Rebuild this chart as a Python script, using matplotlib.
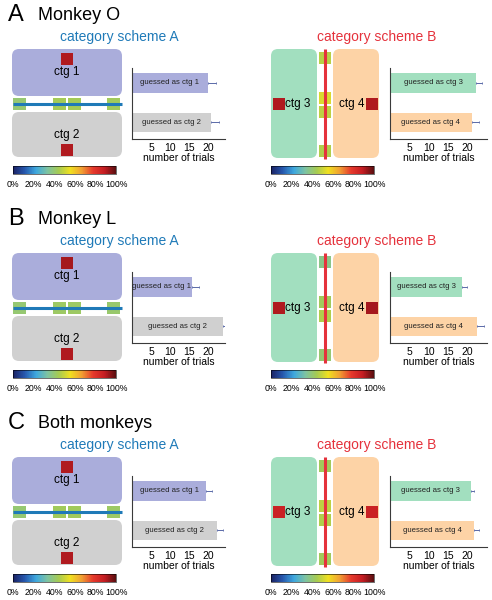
import matplotlib
matplotlib.use("Agg")
import matplotlib.pyplot as plt
import numpy as np
from matplotlib.colors import LinearSegmentedColormap
from matplotlib.patches import FancyBboxPatch, Rectangle
from matplotlib.cm import ScalarMappable

plt.rcParams["font.family"] = ["Liberation Sans", "DejaVu Sans"]

W, H = 492, 600

# ---- data ----
PANEL_LETTERS = ["A", "B", "C"]
PANEL_TITLES = ["Monkey O", "Monkey L", "Both monkeys"]

# number of trials (scheme A: ctg1, ctg2 / scheme B: ctg3, ctg4) and error
trials_A = [[20.0, 20.8], [15.8, 24.0], [19.5, 22.4]]
err_A = [[2.1, 2.1], [1.8, 1.8], [1.6, 1.6]]
trials_B = [[22.3, 21.2], [18.7, 22.5], [21.0, 21.8]]
err_B = [[1.5, 1.8], [1.2, 1.8], [0.8, 1.2]]

# percent correct of the test stimuli (0..1), drawn through the colour map
boundary_A = [[0.40, 0.44, 0.44, 0.43], [0.40, 0.42, 0.42, 0.41], [0.40, 0.43, 0.43, 0.42]]
boundary_B = [[0.47, 0.52, 0.48, 0.46], [0.37, 0.43, 0.46, 0.40], [0.43, 0.48, 0.46, 0.43]]
proto_A = [[0.91, 0.91], [0.92, 0.91], [0.91, 0.91]]
proto_B = [[0.91, 0.91], [0.91, 0.92], [0.87, 0.87]]

cbar_ticks = [0, 0.2, 0.4, 0.6, 0.8, 1.0]
cbar_labels = ["0%", "20%", "40%", "60%", "80%", "100%"]

# ---- style ----
C_PURPLE = "#aaaddb"
C_GRAY = "#d0d0d0"
C_GREEN = "#a2dfbf"
C_ORANGE = "#fdd3a6"
C_BLUE = "#1f7ab8"
C_RED = "#e5323c"
C_AXIS = "#3a3a3a"
C_ERR = "#5a6aa8"

cmap = LinearSegmentedColormap.from_list("muted_jet", [
    "#1b2264", "#2656ac", "#3ea8de", "#7dc3a2", "#a6cb52",
    "#f0e020", "#f1a032", "#e63a2c", "#c41c22", "#5a0f10"])

fig = plt.figure(figsize=(W / 100, H / 100), dpi=100)
ax0 = fig.add_axes([0, 0, 1, 1])
ax0.set_xlim(0, W)
ax0.set_ylim(H, 0)
ax0.axis("off")


def px_axes(x0, y0, x1, y1):
    return fig.add_axes([x0 / W, 1 - y1 / H, (x1 - x0) / W, (y1 - y0) / H])


def rbox(x0, y0, x1, y1, color):
    r = 7
    ax0.add_patch(FancyBboxPatch((x0 + r, y0 + r), x1 - x0 - 2 * r, y1 - y0 - 2 * r,
                                 boxstyle="round,pad=%d" % r, fc=color, ec="none", zorder=1))


def square(x, y, w, h, val):
    ax0.add_patch(Rectangle((x, y), w, h, fc=cmap(val), ec="none", zorder=2))


def bar_panel(x0, y0, x1, y1, xmax, vals, errs, colors, labels):
    ax = px_axes(x0, y0, x1, y1)
    pos = [0, 1]
    ax.barh(pos, vals, height=0.5, color=colors, zorder=1)
    for p, v, e in zip(pos, vals, errs):
        ax.errorbar(v, p, xerr=[[0], [e]], fmt="none", ecolor=C_ERR,
                    elinewidth=0.7, capsize=1.0, capthick=0.6, zorder=2)
        ax.text(v / 2, p, labels[p], ha="center", va="center", fontsize=5.6, color="#222222")
    ax.set_xlim(0, xmax)
    ax.set_ylim(1.42, -0.38)
    ax.set_xticks([5, 10, 15, 20])
    ax.set_yticks([])
    ax.tick_params(axis="x", length=0, pad=3, labelsize=7.5)
    for s in ["top", "right"]:
        ax.spines[s].set_visible(False)
    for s in ["left", "bottom"]:
        ax.spines[s].set_color(C_AXIS)
        ax.spines[s].set_linewidth(0.8)
    ax.set_xlabel("number of trials", fontsize=7.5, labelpad=0)
    ax.patch.set_alpha(0)


def cbar(x0, y0, x1, y1):
    cax = px_axes(x0, y0, x1, y1)
    cb = fig.colorbar(ScalarMappable(cmap=cmap), cax=cax, orientation="horizontal")
    cb.set_ticks(cbar_ticks)
    cb.set_ticklabels(cbar_labels)
    cb.outline.set_linewidth(0.4)
    cax.tick_params(length=0, pad=4, labelsize=6.3)


for i in range(3):
    oy = [0, 204, 408][i]

    ax0.text(8, 15 + oy, PANEL_LETTERS[i], fontsize=17, va="center", ha="left")
    ax0.text(38, 15.5 + oy, PANEL_TITLES[i], fontsize=13, va="center", ha="left")
    ax0.text(119, 37 + oy, "category scheme A", fontsize=10, color=C_BLUE, ha="center", va="center")
    ax0.text(377, 37 + oy, "category scheme B", fontsize=10, color=C_RED, ha="center", va="center")

    # scheme A schematic
    rbox(12, 49 + oy, 122, 96 + oy, C_PURPLE)
    rbox(12, 112 + oy, 122, 157 + oy, C_GRAY)
    for x, v in zip([13, 53, 68, 107], boundary_A[i]):
        square(x, 98 + oy, 13, 12, v)
    ax0.plot([13, 122], [104 + oy, 104 + oy], color=C_BLUE, lw=2.2, zorder=3, solid_capstyle="butt")
    square(61, 53 + oy, 12, 12, proto_A[i][0])
    square(61, 144 + oy, 12, 12, proto_A[i][1])
    ax0.text(67, 72 + oy, "ctg 1", fontsize=8.5, ha="center", va="center", zorder=4)
    ax0.text(67, 135 + oy, "ctg 2", fontsize=8.5, ha="center", va="center", zorder=4)

    # scheme B schematic
    rbox(271, 49 + oy, 317, 158 + oy, C_GREEN)
    rbox(333, 49 + oy, 379, 158 + oy, C_ORANGE)
    for y, v in zip([52, 92, 106, 145], boundary_B[i]):
        square(319, y + oy, 12, 12, v)
    ax0.plot([325, 325], [49 + oy, 159 + oy], color=C_RED, lw=2.2, zorder=3, solid_capstyle="butt")
    square(273, 98 + oy, 12, 12, proto_B[i][0])
    square(366, 98 + oy, 12, 12, proto_B[i][1])
    ax0.text(298, 104 + oy, "ctg 3", fontsize=8.5, ha="center", va="center", zorder=4)
    ax0.text(352, 104 + oy, "ctg 4", fontsize=8.5, ha="center", va="center", zorder=4)

    # bars
    bar_panel(132, 68 + oy, 225, 139 + oy, 24.5, trials_A[i], err_A[i],
              [C_PURPLE, C_GRAY], ["guessed as ctg 1", "guessed as ctg 2"])
    bar_panel(390, 68 + oy, 487, 139 + oy, 25.1, trials_B[i], err_B[i],
              [C_GREEN, C_ORANGE], ["guessed as ctg 3", "guessed as ctg 4"])

    cbar(13, 166 + oy, 116, 174 + oy)
    cbar(271, 166 + oy, 374, 174 + oy)

fig.savefig("out.png", dpi=100)
